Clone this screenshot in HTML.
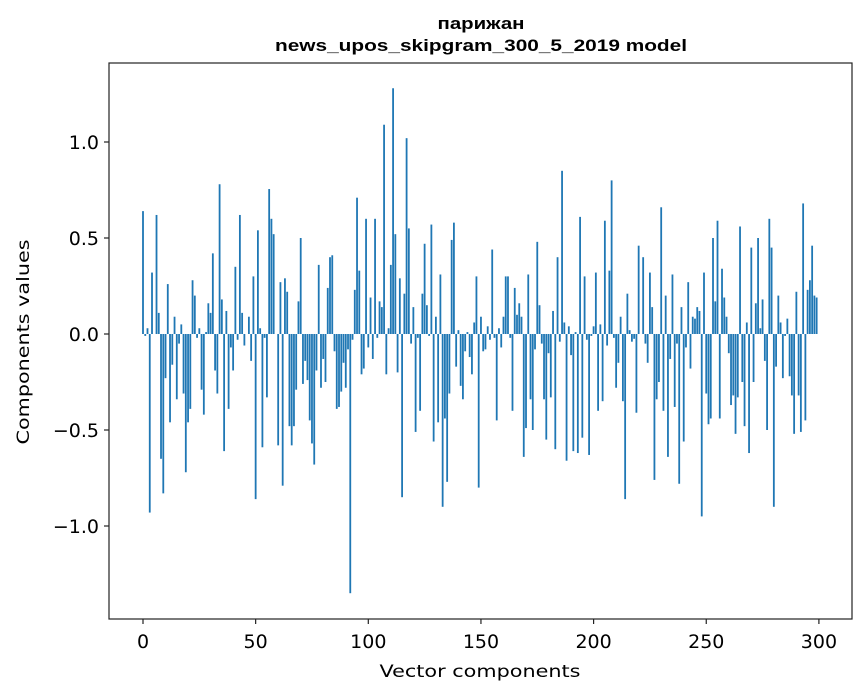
<!DOCTYPE html>
<html><head><meta charset="utf-8"><style>
html,body{margin:0;padding:0;background:#fff;}
svg{display:block;font-family:"DejaVu Sans","Liberation Sans",sans-serif;}
</style></head><body>
<svg id="chart" width="867" height="696" viewBox="0 0 867 696" xmlns="http://www.w3.org/2000/svg">
<text x="481" y="29" text-anchor="middle" font-family="Liberation Sans, sans-serif" font-weight="bold" font-size="17" textLength="87" lengthAdjust="spacingAndGlyphs">парижан</text>
<text x="481" y="51" text-anchor="middle" font-family="Liberation Sans, sans-serif" font-weight="bold" font-size="17" textLength="412" lengthAdjust="spacingAndGlyphs">news_upos_skipgram_300_5_2019 model</text>
<g id="bars"></g>
<g id="axes"></g>
<rect x="109" y="63" width="743" height="556" fill="none" stroke="#222" stroke-width="1.2"/>
<text x="480" y="677" text-anchor="middle" font-size="17" textLength="201" lengthAdjust="spacingAndGlyphs">Vector components</text>
<text transform="translate(29,342) rotate(-90)" text-anchor="middle" font-size="17" textLength="205" lengthAdjust="spacingAndGlyphs">Components values</text>
</svg>
<script>
const values = [
0.64,-0.01,0.03,-0.93,0.32,0.0,0.62,0.11,-0.65,-0.83,
-0.23,0.26,-0.46,-0.16,0.09,-0.34,-0.05,0.05,-0.31,-0.72,
-0.46,-0.39,0.28,0.2,-0.02,0.03,-0.29,-0.42,0.01,0.16,
0.11,0.42,-0.19,-0.31,0.78,0.18,-0.61,0.12,-0.39,-0.07,
-0.19,0.35,-0.03,0.62,0.11,-0.06,0.0,0.09,-0.14,0.3,
-0.86,0.54,0.03,-0.59,-0.02,-0.33,0.755,0.6,0.52,0.0,
-0.58,0.27,-0.79,0.29,0.22,-0.48,-0.58,-0.48,-0.29,0.17,
0.5,-0.26,-0.14,-0.24,-0.45,-0.57,-0.68,-0.19,0.36,-0.28,
-0.13,-0.25,0.24,0.4,0.41,-0.09,-0.39,-0.38,-0.3,-0.15,
-0.28,-0.08,-1.35,-0.03,0.23,0.71,0.33,-0.21,-0.18,0.6,
-0.07,0.19,-0.13,0.6,-0.02,0.17,0.14,1.09,-0.21,0.03,
0.36,1.28,0.52,-0.2,0.29,-0.85,0.21,1.02,0.55,-0.05,
0.14,-0.51,-0.02,-0.4,0.21,0.47,0.15,-0.01,0.57,-0.56,
0.09,-0.46,0.31,-0.9,-0.44,-0.77,-0.31,0.49,0.58,-0.17,
0.02,-0.27,-0.34,-0.09,0.01,-0.12,-0.21,0.06,0.3,-0.8,
0.09,-0.09,-0.08,0.04,-0.03,0.44,-0.02,-0.45,0.03,-0.07,
0.09,0.3,0.3,-0.02,-0.4,0.24,0.1,0.16,0.09,-0.64,
-0.49,0.31,-0.34,-0.5,-0.08,0.48,0.15,-0.05,-0.34,-0.55,
-0.1,-0.33,0.12,-0.6,0.4,-0.04,0.85,0.06,-0.66,0.04,
-0.11,-0.61,0.01,-0.62,0.61,-0.54,0.3,-0.03,-0.63,-0.01,
0.04,0.32,-0.4,0.05,-0.35,0.59,-0.06,0.33,0.8,-0.02,
-0.28,-0.15,0.09,-0.35,-0.86,0.21,0.02,-0.04,-0.025,-0.41,
0.46,0.0,0.4,-0.05,-0.15,0.32,0.14,-0.76,-0.34,-0.25,
0.66,-0.4,0.2,-0.64,-0.13,0.31,-0.38,-0.05,-0.78,0.14,
-0.56,-0.07,0.27,-0.18,0.09,0.08,0.14,0.12,-0.95,0.32,
-0.31,-0.47,-0.44,0.5,0.17,0.59,-0.44,0.34,0.19,0.09,
-0.1,-0.37,-0.32,-0.52,-0.33,0.56,-0.25,-0.48,0.06,-0.62,
0.45,-0.25,0.16,0.5,0.03,0.18,-0.14,-0.5,0.6,0.45,
-0.9,-0.17,0.2,0.06,-0.23,-0.01,0.08,-0.22,-0.32,-0.52,
0.22,-0.32,-0.51,0.68,-0.45,0.23,0.28,0.46,0.2,0.19
];
const xTicks = [0,50,100,150,200,250,300];
const yTicks = [-1.0,-0.5,0.0,0.5,1.0];
const yTickLabels = ["\u22121.0","\u22120.5","0.0","0.5","1.0"];

const NS = "http://www.w3.org/2000/svg";
const X0 = 143, XS = 2.253;
const Y0 = 334, YS = 192;
function xScale(i){ return X0 + i*XS; }
function yScale(v){ return Y0 - v*YS; }

const bars = document.getElementById('bars');
values.forEach((v,i)=>{
  const r = document.createElementNS(NS,'rect');
  
  
  const w = 0.8*XS;
  const y1 = yScale(Math.max(v,0)), y2 = yScale(Math.min(v,0));
  r.setAttribute('x', (xScale(i)-w/2).toFixed(2));
  r.setAttribute('y', y1.toFixed(2));
  r.setAttribute('width', w.toFixed(2));
  r.setAttribute('height', Math.max(y2-y1,0).toFixed(2));
  r.setAttribute('fill', '#1f77b4');
  bars.appendChild(r);
});

const axes = document.getElementById('axes');
xTicks.forEach(t=>{
  const x = xScale(t);
  const l = document.createElementNS(NS,'line');
  
  
  l.setAttribute('x1',x); l.setAttribute('x2',x);
  l.setAttribute('y1',619); l.setAttribute('y2',624);
  l.setAttribute('stroke','#222'); l.setAttribute('stroke-width','1.2');
  axes.appendChild(l);
  const tx = document.createElementNS(NS,'text');
  
  
  tx.setAttribute('x',x); tx.setAttribute('y',648);
  tx.setAttribute('text-anchor','middle'); tx.setAttribute('font-size','19');
  tx.textContent = String(t);
  axes.appendChild(tx);
});
yTicks.forEach((t,k)=>{
  const y = yScale(t);
  const l = document.createElementNS(NS,'line');
  
  
  l.setAttribute('x1',104); l.setAttribute('x2',109);
  l.setAttribute('y1',y); l.setAttribute('y2',y);
  l.setAttribute('stroke','#222'); l.setAttribute('stroke-width','1.2');
  axes.appendChild(l);
  const tx = document.createElementNS(NS,'text');
  
  
  tx.setAttribute('x',99); tx.setAttribute('y',y+7);
  tx.setAttribute('text-anchor','end'); tx.setAttribute('font-size','19');
  tx.textContent = yTickLabels[k];
  axes.appendChild(tx);
});
</script>
</body></html>
